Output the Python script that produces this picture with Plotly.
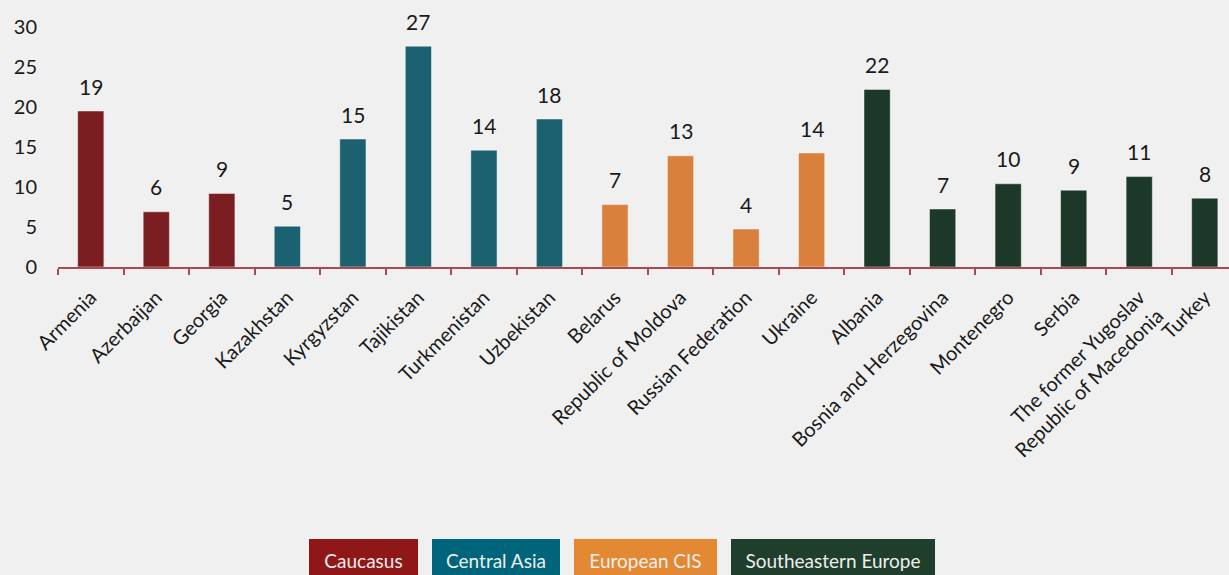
import plotly.graph_objects as go

countries = ["Armenia", "Azerbaijan", "Georgia", "Kazakhstan", "Kyrgyzstan", "Tajikistan",
             "Turkmenistan", "Uzbekistan", "Belarus", "Republic of Moldova", "Russian Federation",
             "Ukraine", "Albania", "Bosnia and Herzegovina", "Montenegro", "Serbia",
             "The former Yugoslav<br>Republic of Macedonia", "Turkey"]
regions = ["Caucasus"] * 3 + ["Central Asia"] * 5 + ["European CIS"] * 4 + ["Southeastern Europe"] * 6
values = [19.5, 6.9, 9.2, 5.1, 16.0, 27.6, 14.6, 18.5, 7.8, 13.9, 4.75, 14.25,
          22.2, 7.25, 10.4, 9.6, 11.3, 8.6]
labels = ["19", "6", "9", "5", "15", "27", "14", "18", "7", "13", "4", "14",
          "22", "7", "10", "9", "11", "8"]
legend_names = ["Caucasus", "Central Asia", "European CIS", "Southeastern Europe"]

bar_colors = {"Caucasus": "#7b1e22", "Central Asia": "#1c616f",
              "European CIS": "#d9803d", "Southeastern Europe": "#1c3829"}
legend_colors = {"Caucasus": "#8f1717", "Central Asia": "#00657b",
                 "European CIS": "#e38934", "Southeastern Europe": "#1f3e2b"}

FONT = "Lato, 'Open Sans', sans-serif"
W, H = 1229, 575
L, T = 58, 27
PH = 240
B = H - T - PH
plot_w = W - L

fig = go.Figure()
fig.add_trace(go.Bar(
    x=countries, y=values,
    marker=dict(color=[bar_colors[r] for r in regions],
                line=dict(color="rgba(255,255,255,0.45)", width=1)),
    width=0.4, hoverinfo="x+y", showlegend=False,
))

annotations = []
for c, v, lab in zip(countries, values, labels):
    annotations.append(dict(x=c, y=v, xref="x", yref="y", text=lab, showarrow=False,
                            yanchor="middle", yshift=25,
                            font=dict(family=FONT, size=21, color="#1a1a1a")))

# legend boxes (pixel layout converted to paper coords)
box_left_px = [309, 432, 574, 731]
box_w_px = [109, 128, 143, 204]
box_top_px = 539
for name, lx, bw in zip(legend_names, box_left_px, box_w_px):
    annotations.append(dict(
        x=(lx - L) / plot_w, y=(T + PH - box_top_px) / PH,
        xref="paper", yref="paper", xanchor="left", yanchor="top",
        text=name, showarrow=False, width=bw, height=42, align="center", valign="middle",
        bgcolor=legend_colors[name], borderpad=0, borderwidth=0,
        font=dict(family=FONT, size=19, color="#eeeeee")))

fig.update_layout(
    width=W, height=H,
    margin=dict(l=L, r=0, t=T, b=B),
    paper_bgcolor="#f0f0f0", plot_bgcolor="#f0f0f0",
    font=dict(family=FONT, size=20, color="#1a1a1a"),
    annotations=annotations,
    bargap=0.6,
)
fig.update_xaxes(
    type="category", range=[-0.5, 17.37],
    showline=True, linecolor="#a84a4f", linewidth=2,
    ticks="outside", tickson="boundaries", ticklen=6, tickcolor="#a84a4f", tickwidth=2,
    tickangle=-45, showgrid=False, zeroline=False, ticklabelstandoff=9,
    tickfont=dict(family=FONT, size=20, color="#1a1a1a"),
)
fig.update_yaxes(
    range=[0, 30], dtick=5, showgrid=False, zeroline=False, showline=False,
    ticks="", ticklabelstandoff=20,
    tickfont=dict(family=FONT, size=20, color="#1a1a1a"),
)

fig.write_html(
    "out.html",
    config={"displayModeBar": False},
    post_script="document.body.style.margin='0';document.body.style.background='#f0f0f0';"
                "document.body.style.overflow='hidden';",
)
